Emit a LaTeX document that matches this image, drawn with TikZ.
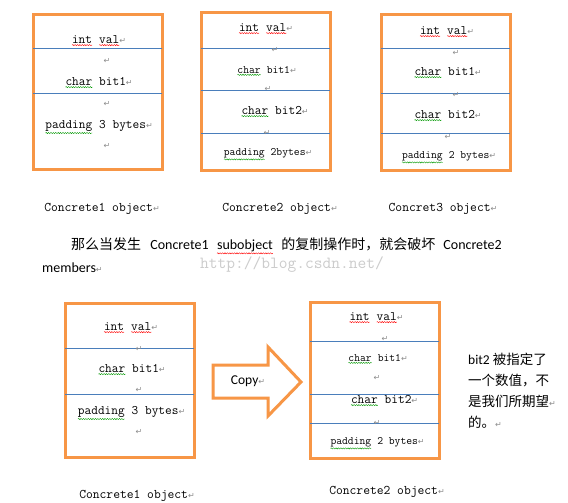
\documentclass[tikz,border=0pt]{standalone}
\usepackage{fontspec}
\usepackage{xcolor}
\usetikzlibrary{decorations.pathmorphing}
\setmainfont{Carlito}
\setmonofont{Latin Modern Mono}
\newfontfamily\cjk{Noto Sans CJK SC}
\newfontfamily\markfont{DejaVu Sans}
\definecolor{boxorange}{HTML}{F79646}
\definecolor{lineblue}{HTML}{4A7EBB}
\newcommand\parmark{{\markfont\fontsize{8}{8}\selectfont\color{black!45}↵}}
\newcommand\squig[2]{\tikz[baseline=(sq.base)]{\node[anchor=center,draw=none,inner sep=0pt,outer sep=0pt] (sq) {#2};\draw[#1,line width=.4pt,decorate,decoration={snake,amplitude=.6pt,segment length=2.4pt}] ([yshift=-1.3pt]sq.south west) -- ([yshift=-1.3pt]sq.south east);}}
\newcommand\rw[1]{\squig{red}{#1}}
\newcommand\gw[1]{\squig{green!60!black}{#1}}

\begin{document}
\begin{tikzpicture}[x=1pt,y=-1pt,
    objbox/.style={draw=boxorange,line width=3pt,minimum width=129pt,inner sep=0pt},
    divider/.style={draw=lineblue,line width=.8pt,shorten <=1.5pt,shorten >=1.5pt},
    field/.style={font=\ttfamily\fontsize{13}{15}\selectfont,inner sep=1pt,text height=8pt,text depth=2.5pt},
    smallfield/.style={font=\ttfamily\fontsize{11.3}{13}\selectfont,inner sep=1pt,text height=7pt,text depth=2pt},
    caption/.style={font=\ttfamily\fontsize{13.2}{15}\selectfont,inner sep=1pt},
    copyarrow/.style={draw=boxorange,line width=3pt,line join=miter,fill=white}]

    \fill[white] (0,0) rectangle (568,503);
    \useasboundingbox (0,0) rectangle (568,503);

    % Concrete1 object
    \node[objbox,minimum height=154pt] (c1) at (97.5,92) {};
    \draw[divider] (c1.west |- 0,48) -- (c1.east |- 0,48);
    \draw[divider] (c1.west |- 0,93) -- (c1.east |- 0,93);
    \node[field] (c1a) at (99,41) {\rw{int} \rw{val}\parmark};
    \node (c1b) at (107,61) {\parmark};
    \node[field] (c1c) at (99,83) {\gw{char} bit1\parmark};
    \node (c1d) at (107,104) {\parmark};
    \node[field] (c1e) at (99,126) {\gw{padding} 3 bytes\parmark};
    \node (c1f) at (107,146) {\parmark};
    \node[caption] (cap1) at (102,209) {Concrete1 object\parmark};

    % Concrete2 object
    \node[objbox,minimum height=157pt] (c2) at (265.5,91.5) {};
    \draw[divider] (c2.west |- 0,48) -- (c2.east |- 0,48);
    \draw[divider] (c2.west |- 0,90) -- (c2.east |- 0,90);
    \draw[divider] (c2.west |- 0,133) -- (c2.east |- 0,133);
    \node[field] (c2a) at (266,29) {\rw{int} \rw{val}\parmark};
    \node (c2b) at (275,50) {\parmark};
    \node[smallfield] (c2c) at (267,71) {\gw{char} bit1\parmark};
    \node (c2d) at (268,89) {\parmark};
    \node[field] (c2e) at (275,112) {\gw{char} bit2\parmark};
    \node (c2f) at (267,133) {\parmark};
    \node[smallfield] (c2g) at (268,153) {\gw{padding} 2bytes\parmark};
    \node[caption] (cap2) at (280,209) {Concrete2 object\parmark};

    % Concret3 object
    \node[objbox,minimum height=155pt] (c3) at (445.5,92.5) {};
    \draw[divider] (c3.west |- 0,48) -- (c3.east |- 0,48);
    \draw[divider] (c3.west |- 0,93) -- (c3.east |- 0,93);
    \draw[divider] (c3.west |- 0,133) -- (c3.east |- 0,133);
    \node[field] (c3a) at (447,32) {\rw{int} \rw{val}\parmark};
    \node (c3b) at (456,53) {\parmark};
    \node[field] (c3c) at (448,73) {\gw{char} bit1\parmark};
    \node (c3d) at (456,95) {\parmark};
    \node[field] (c3e) at (448,116) {\gw{char} bit2\parmark};
    \node (c3f) at (448,137) {\parmark};
    \node[smallfield] (c3g) at (449,156) {\gw{padding} 2 bytes\parmark};
    \node[caption] (cap3) at (443,209) {Concret3 object\parmark};

    % paragraph
    \node[anchor=west,inner sep=0pt,font=\fontsize{14}{16}\selectfont] (para1) at (71,246)
        {{\cjk 那么当发生}\hspace{6pt} Concrete1\hspace{5pt} \rw{subobject}\hspace{5pt} {\cjk 的复制操作时，就会破坏}\hspace{5pt} Concrete2};
    \node[anchor=west,inner sep=0pt,font=\fontsize{14}{16}\selectfont] (para2) at (42,268) {members\parmark};
    \node[inner sep=0pt,font=\ttfamily\fontsize{17}{19}\selectfont,text=black!20] (wm) at (292,264.5) {http://blog.csdn.net/};

    % Concrete1 object (copy source)
    \node[objbox,minimum height=154pt] (c4) at (129.5,380) {};
    \draw[divider] (c4.west |- 0,348) -- (c4.east |- 0,348);
    \draw[divider] (c4.west |- 0,394) -- (c4.east |- 0,394);
    \node[field] (c4a) at (131,328) {\rw{int} \rw{val}\parmark};
    \node (c4b) at (139,349) {\parmark};
    \node[field] (c4c) at (132,370) {\gw{char} bit1\parmark};
    \node (c4d) at (139,390) {\parmark};
    \node[field] (c4e) at (131.5,412) {\gw{padding} 3 bytes\parmark};
    \node (c4f) at (139,432) {\parmark};
    \node[caption] (cap4) at (137,496) {Concrete1 object\parmark};

    % copy arrow
    \draw[copyarrow] (213,365) -- (268,365) -- (268,347) -- (301,382) -- (268,416) -- (268,398) -- (213,398) -- cycle;
    \node[font=\fontsize{13.5}{15}\selectfont] (copy) at (248,381) {Copy\parmark};

    % Concrete2 object (copy target)
    \node[objbox,minimum height=156pt] (c5) at (374.5,380) {};
    \draw[divider] (c5.west |- 0,341) -- (c5.east |- 0,341);
    \draw[divider] (c5.west |- 0,394) -- (c5.east |- 0,394);
    \draw[divider] (c5.west |- 0,423) -- (c5.east |- 0,423);
    \node[field] (c5a) at (376.5,318) {\rw{int} \rw{val}\parmark};
    \node (c5b) at (385,339) {\parmark};
    \node[smallfield] (c5c) at (378,359) {\gw{char} bit1\parmark};
    \node (c5d) at (377,378) {\parmark};
    \node[field] (c5e) at (384.5,401) {\gw{char} bit2\parmark};
    \node (c5f) at (377,423) {\parmark};
    \node[smallfield] (c5g) at (377.5,442) {\gw{padding} 2 bytes\parmark};
    \node[caption] (cap5) at (387,492) {Concrete2 object\parmark};

    \node[anchor=north west,align=left,inner sep=0pt,font=\fontsize{13.5}{21}\selectfont] (note) at (468,353)
        {bit2 {\cjk 被指定了}\\{\cjk 一个数值，不}\\{\cjk 是我们所期望}\parmark\\{\cjk 的。}\parmark};
\end{tikzpicture}
\end{document}
